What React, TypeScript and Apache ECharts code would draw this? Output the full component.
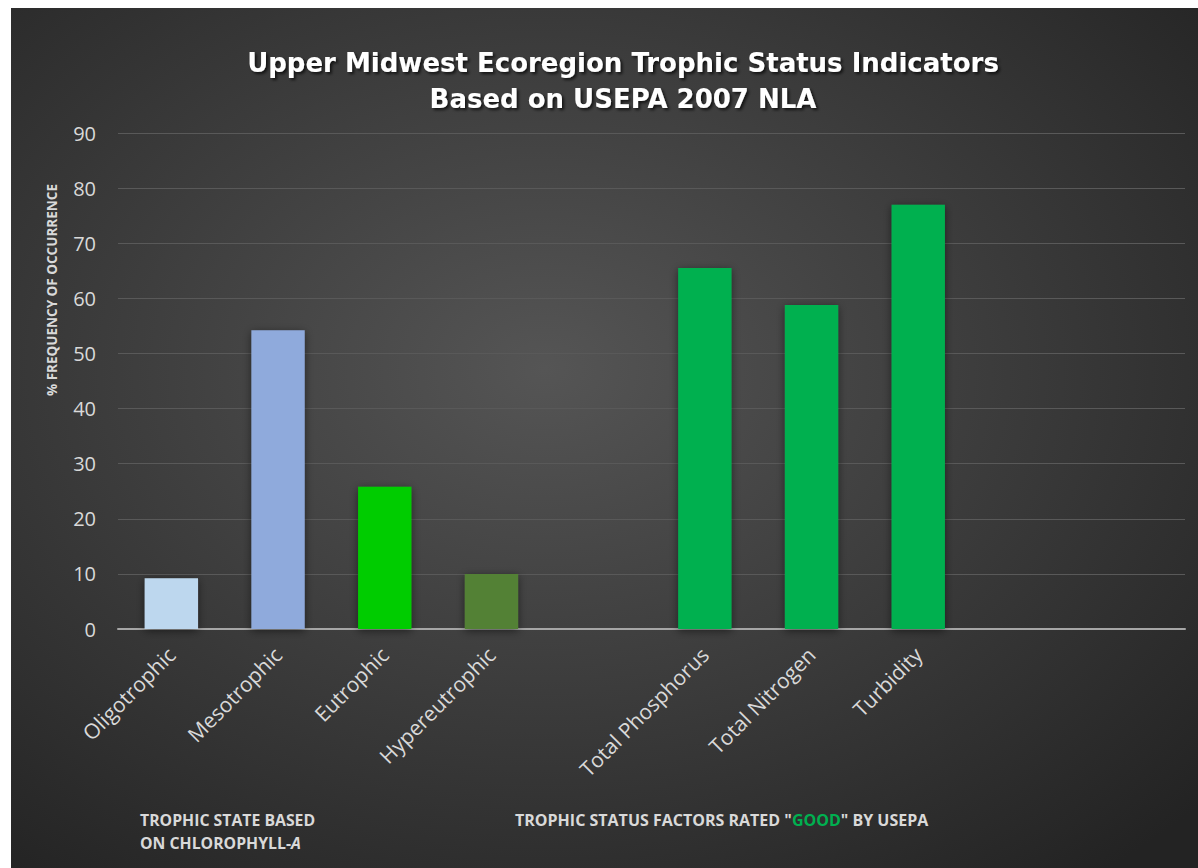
import React, { useEffect, useRef } from "react";
import * as echarts from "echarts";

const categories = [
  "Oligotrophic",
  "Mesotrophic",
  "Eutrophic",
  "Hypereutrophic",
  "",
  "Total Phosphorus",
  "Total Nitrogen",
  "Turbidity",
  " ",
  "  ",
];
const values: (number | null)[] = [9.2, 54.2, 25.8, 10.0, null, 65.5, 58.8, 77.0, null, null];
const barColors = ["#BDD7EE", "#8FAADC", "#00CC00", "#538135", "#00B050", "#00B050", "#00B050", "#00B050", "#00B050", "#00B050"];
const yTicks = [0, 10, 20, 30, 40, 50, 60, 70, 80, 90];

const titleLines = ["Upper Midwest Ecoregion Trophic Status Indicators", "Based on USEPA 2007 NLA"];
const yAxisTitle = "% FREQUENCY OF OCCURRENCE";
const leftNote = ["TROPHIC STATE BASED", "ON CHLOROPHYLL-", "A"];
const rightNote = ['TROPHIC STATUS FACTORS RATED "', "GOOD", '" BY USEPA'];

export default function App() {
  const ref = useRef<HTMLDivElement>(null);
  useEffect(() => {
    document.body.style.margin = "0";
    const chart = echarts.init(ref.current!, null, { renderer: "svg" });
    const font = "'Open Sans', 'DejaVu Sans', sans-serif";
    chart.setOption({
      animation: false,
      backgroundColor: {
        type: "radial",
        x: 0.45,
        y: 0.42,
        r: 0.75,
        colorStops: [
          { offset: 0, color: "#555555" },
          { offset: 1, color: "#232323" },
        ],
      },
      grid: { left: 107, right: 13, top: 125, bottom: 239, containLabel: false },
      xAxis: {
        type: "category",
        data: categories,
        axisLine: { lineStyle: { color: "#A6A6A6", width: 2 } },
        axisTick: { show: false },
        axisLabel: {
          rotate: 45,
          interval: 0,
          color: "#D9D9D9",
          fontFamily: font,
          fontSize: 21,
          margin: 22,
        },
      },
      yAxis: {
        type: "value",
        min: yTicks[0],
        max: yTicks[yTicks.length - 1],
        interval: 10,
        axisLine: { show: false },
        axisTick: { show: false },
        splitLine: { lineStyle: { color: "#595959", width: 1 } },
        axisLabel: {
          color: "#D9D9D9",
          fontFamily: font,
          fontSize: 20,
          margin: 22,
        },
      },
      series: [
        {
          type: "bar",
          barWidth: "50%",
          data: values.map((v, i) => ({
            value: v,
            itemStyle: {
              color: barColors[i],
              shadowColor: "rgba(0,0,0,0.5)",
              shadowBlur: 8,
              shadowOffsetY: 2,
            },
          })),
        },
      ],
      graphic: [
        {
          type: "text",
          x: 612,
          y: 37,
          style: {
            text: titleLines.join("\n"),
            fill: "#FFFFFF",
            font: "bold 26px 'DejaVu Sans', sans-serif",
            lineHeight: 36,
            align: "center",
            verticalAlign: "top",
            textShadowColor: "rgba(0,0,0,0.7)",
            textShadowBlur: 3,
            textShadowOffsetX: 2,
            textShadowOffsetY: 2,
          },
        },
        {
          type: "text",
          x: 41,
          y: 282,
          rotation: Math.PI / 2,
          style: {
            text: yAxisTitle,
            fill: "#D9D9D9",
            font: `bold 13.5px ${font}`,
            align: "center",
            verticalAlign: "middle",
          },
        },
        {
          type: "text",
          x: 129,
          y: 800,
          style: {
            text: `{n|${leftNote[0]}}\n{n|${leftNote[1]}}{i|${leftNote[2]}}`,
            rich: {
              n: { fill: "#D9D9D9", fontFamily: font, fontWeight: "bold", fontSize: 15.8, lineHeight: 23 },
              i: { fill: "#D9D9D9", fontFamily: font, fontWeight: "bold", fontStyle: "italic", fontSize: 15.8, lineHeight: 23 },
            },
          },
        },
        {
          type: "text",
          x: 504,
          y: 800,
          style: {
            text: `{n|${rightNote[0]}}{g|${rightNote[1]}}{n|${rightNote[2]}}`,
            rich: {
              n: { fill: "#D9D9D9", fontFamily: font, fontWeight: "bold", fontSize: 16, lineHeight: 23 },
              g: { fill: "#00B050", fontFamily: font, fontWeight: "bold", fontSize: 16, lineHeight: 23 },
            },
          },
        },
      ],
    });
    return () => chart.dispose();
  }, []);
  return (
    <div
      ref={ref}
      style={{ position: "absolute", left: 11, top: 8, width: 1187, height: 860 }}
    />
  );
}
